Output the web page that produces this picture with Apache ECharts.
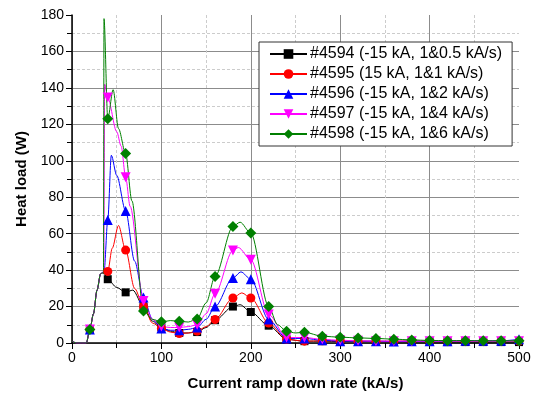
<!DOCTYPE html>
<html>
<head>
<meta charset="utf-8">
<script src="https://cdn.jsdelivr.net/npm/echarts@6/dist/echarts.min.js"></script>
<style>
  html, body { margin: 0; padding: 0; background: #fff; }
  #chart { width: 537px; height: 399px; }
</style>
</head>
<body>
<div id="chart"></div>
<script>
// points where the markers sit (kA/s)
const markerX = [20, 40, 60, 80, 100, 120, 140, 160, 180, 200, 220, 240, 260, 280, 300, 320, 340, 360, 380, 400, 420, 440, 460, 480, 500];

// shared start of all curves
const xStart = [0, 5, 16, 20, 24, 28, 32, 34];
const yStart = [1, 0, 0, 7.4, 16, 29, 38, 38.5];

// #4594
const x4594 = [36, 40, 50, 60, 68, 80, 90, 100, 110, 120, 130, 140, 150, 160, 180, 188, 200, 220, 240, 260, 280, 300, 320, 340, 360, 380, 400, 420, 440, 460, 480, 500];
const y4594 = [38, 35, 30.5, 27.8, 29, 20, 12, 8.5, 6.5, 5.5, 5.5, 6, 8.5, 12.5, 20, 21, 17, 9.5, 2, 1, 1, 0.8, 0.7, 0.7, 0.6, 0.6, 0.6, 0.5, 0.5, 0.5, 0.5, 0.5];

// #4595
const x4595 = [36, 40, 45, 52, 60, 70, 80, 90, 100, 110, 120, 130, 140, 150, 160, 180, 190, 200, 220, 240, 260, 280, 300, 320, 340, 360, 380, 400, 420, 440, 460, 480, 500];
const y4595 = [38.5, 39.3, 52, 64.5, 51, 30, 20, 11, 8, 6, 5.2, 5.5, 6.5, 9, 12.9, 24.7, 27.5, 24.7, 11, 2, 1, 1.2, 1.2, 1, 1, 1, 1.2, 1, 1, 1, 1, 1.2, 1];

// #4596
const x4596 = [36, 40, 44, 50, 60, 70, 80, 90, 100, 110, 120, 130, 140, 150, 160, 180, 189, 200, 220, 240, 260, 280, 300, 320, 340, 360, 380, 400, 420, 440, 460, 480, 500];
const y4596 = [40, 67.5, 103, 92, 72.5, 45, 25, 13, 8, 7, 7, 7.5, 8.5, 13, 20, 35.7, 39, 35, 12.9, 2.5, 2.5, 1.5, 1, 1, 1, 0.8, 1, 1, 1, 1.2, 1.2, 1.2, 2];

// #4597
const x4597 = [35.5, 36.5, 40, 50, 55, 60, 65, 80, 90, 100, 110, 120, 130, 140, 150, 160, 180, 186, 200, 220, 240, 260, 280, 300, 320, 340, 360, 380, 400, 420, 440, 460, 480, 500];
const y4597 = [38, 142, 134.7, 116, 108, 91, 75, 23, 13, 9, 8.5, 8.5, 9, 10, 16, 27, 50.8, 52.4, 45.7, 15.6, 3, 3, 2, 1.5, 1.2, 1, 1, 1, 1, 1, 1, 1, 1, 1];

// #4598
const x4598 = [35.2, 35.8, 40, 46, 52, 60, 67, 80, 90, 100, 110, 120, 130, 140, 150, 160, 180, 188, 200, 220, 230, 240, 250, 260, 280, 300, 320, 340, 360, 380, 400, 420, 440, 460, 480, 500];
const y4598 = [38, 178, 123, 139, 117.7, 104, 78, 17.5, 13, 11.6, 12.3, 11.9, 11.5, 13.2, 22, 36.5, 63.9, 66.3, 60.3, 20, 10, 6.5, 5.5, 5.9, 3.7, 3.2, 2.8, 2.5, 2.1, 1.7, 1.4, 1.3, 1.3, 1.2, 1.2, 1.2];

const names = [
  '#4594 (-15 kA, 1&0.5 kA/s)',
  '#4595 (15 kA, 1&1 kA/s)',
  '#4596 (-15 kA, 1&2 kA/s)',
  '#4597 (-15 kA, 1&4 kA/s)',
  '#4598 (-15 kA, 1&6 kA/s)'
];
const colors = ['#000000', '#ff0000', '#0000ff', '#ff00ff', '#008000'];
const symbols = ['rect', 'circle', 'triangle', 'triangle', 'diamond'];
const symbolSizes = [8, 9, 10, 10, 11];
const symbolRotates = [0, 0, 0, 180, 0];
const curves = [[x4594, y4594], [x4595, y4595], [x4596, y4596], [x4597, y4597], [x4598, y4598]];

// build line data, markers only on the sampled points
const buildData = (xs, ys) => {
  const allX = xStart.concat(xs);
  const allY = yStart.concat(ys);
  return allX.map((x, i) => {
    const item = { value: [x, allY[i]] };
    if (markerX.indexOf(x) < 0) item.symbol = 'none';
    return item;
  });
};

const chart = echarts.init(document.getElementById('chart'));

const axisFont = { fontFamily: 'Liberation Sans, Arial, sans-serif', fontSize: 14, color: '#000' };

const option = {
  animation: false,
  grid: { left: 72, right: 18, top: 15, bottom: 56 },
  legend: {
    left: 259,
    top: 42,
    orient: 'vertical',
    itemWidth: 37,
    itemHeight: 12,
    itemGap: 4,
    padding: [4, 10, 4, 10],
    backgroundColor: '#fff',
    borderColor: '#333',
    borderWidth: 1,
    borderRadius: 0,
    textStyle: { fontFamily: 'Liberation Sans, Arial, sans-serif', fontSize: 16, color: '#000', padding: [0, 0, 0, -2] },
    data: names
  },
  xAxis: {
    type: 'value',
    min: 0,
    max: 500,
    interval: 100,
    name: 'Current ramp down rate (kA/s)',
    nameLocation: 'middle',
    nameGap: 33,
    nameTextStyle: { fontFamily: 'Liberation Sans, Arial, sans-serif', fontSize: 15, fontWeight: 'bold', color: '#000' },
    axisLine: { lineStyle: { color: '#000', width: 1.5 } },
    axisTick: { show: true, length: 6, lineStyle: { color: '#000' } },
    minorTick: { show: true, splitNumber: 2, length: 5, lineStyle: { color: '#000' } },
    axisLabel: Object.assign({ margin: 8 }, axisFont),
    splitLine: { show: true, showMaxLine: false, lineStyle: { color: '#8c8c8c', width: 1 } },
    minorSplitLine: { show: true, lineStyle: { color: '#ccc', type: [3, 2] } }
  },
  yAxis: {
    type: 'value',
    min: 0,
    max: 180,
    interval: 20,
    name: 'Heat load (W)',
    nameLocation: 'middle',
    nameGap: 41,
    nameTextStyle: { fontFamily: 'Liberation Sans, Arial, sans-serif', fontSize: 15, fontWeight: 'bold', color: '#000' },
    axisLine: { show: true, lineStyle: { color: '#000', width: 1.5 } },
    axisTick: { show: true, length: 6, lineStyle: { color: '#000' } },
    minorTick: { show: true, splitNumber: 2, length: 5, lineStyle: { color: '#000' } },
    axisLabel: Object.assign({ margin: 8 }, axisFont),
    splitLine: { show: true, showMaxLine: false, lineStyle: { color: '#8c8c8c', width: 1 } },
    minorSplitLine: { show: true, lineStyle: { color: '#ccc', type: [3, 2] } }
  },
  series: curves.map((c, i) => ({
    name: names[i],
    type: 'line',
    data: buildData(c[0], c[1]),
    smooth: 0.3,
    smoothMonotone: 'x',
    symbol: symbols[i],
    symbolSize: symbolSizes[i],
    symbolRotate: symbolRotates[i],
    showAllSymbol: true,
    color: colors[i],
    lineStyle: { width: 1, color: colors[i] },
    itemStyle: { color: colors[i] }
  }))
};

chart.setOption(option);
</script>
</body>
</html>
